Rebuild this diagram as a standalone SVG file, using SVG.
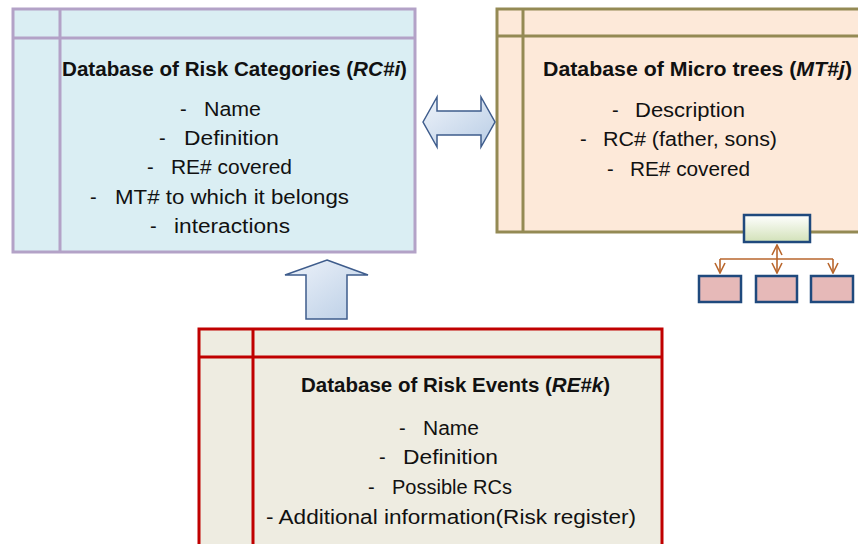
<svg xmlns="http://www.w3.org/2000/svg" width="858" height="544" viewBox="0 0 858 544">
<defs>
<linearGradient id="arrowGrad" x1="0" y1="0" x2="1" y2="1">
<stop offset="0" stop-color="#EEF3FA"/>
<stop offset="1" stop-color="#B9CDE5"/>
</linearGradient>
<linearGradient id="arrowGradV" x1="0" y1="0" x2="1" y2="1">
<stop offset="0" stop-color="#EEF3FA"/>
<stop offset="1" stop-color="#B9CDE5"/>
</linearGradient>
<linearGradient id="greenGrad" x1="0" y1="0" x2="0" y2="1">
<stop offset="0" stop-color="#FFFFFF"/>
<stop offset="1" stop-color="#D2E1B8"/>
</linearGradient>
<marker id="openArrow" viewBox="0 0 12 12" refX="11" refY="6" markerWidth="12" markerHeight="12" markerUnits="userSpaceOnUse" orient="auto-start-reverse">
<path d="M1,1 L11,6 L1,11" fill="none" stroke="#B9662C" stroke-width="1.6"/>
</marker>
<style>
text { font-family: "Liberation Sans", Arial, sans-serif; fill: #111; }
.title { font-size: 19.5px; font-weight: bold; }
.item { font-size: 20px; }
.rc { fill: #DAEEF3; stroke: #B3A2C7; stroke-width: 3; }
.mt { fill: #FDE9D9; stroke: #948A54; stroke-width: 3; }
.re { fill: #EEECE1; stroke: #C00000; stroke-width: 3; }
.rcline { stroke: #B3A2C7; stroke-width: 3; }
.mtline { stroke: #948A54; stroke-width: 3; }
.reline { stroke: #C00000; stroke-width: 3; }
.bigarrow { stroke: #3E5C8C; stroke-width: 1.5; stroke-linejoin: miter; }
.tree { stroke: #B9662C; stroke-width: 1.6; fill: none; }
.parent { fill: url(#greenGrad); stroke: #1F497D; stroke-width: 2.5; }
.child { fill: #E6B9B8; stroke: #1F497D; stroke-width: 2.5; }
</style>
</defs>

<g id="node-risk-categories">
<rect class="rc" x="13" y="9" width="402" height="243"/>
<line class="rcline" x1="60" y1="9" x2="60" y2="252"/>
<line class="rcline" x1="13" y1="38" x2="415" y2="38"/>
<text class="title" x="62" y="76" textLength="345" lengthAdjust="spacingAndGlyphs">Database of Risk Categories (<tspan font-style="italic">RC#i</tspan>)</text>
<text class="item" y="116"><tspan x="180">-</tspan><tspan x="204" textLength="57" lengthAdjust="spacingAndGlyphs">Name</tspan></text>
<text class="item" y="145"><tspan x="159">-</tspan><tspan x="184" textLength="95" lengthAdjust="spacingAndGlyphs">Definition</tspan></text>
<text class="item" y="174"><tspan x="147">-</tspan><tspan x="171" textLength="121" lengthAdjust="spacingAndGlyphs">RE# covered</tspan></text>
<text class="item" y="204"><tspan x="90">-</tspan><tspan x="115" textLength="234" lengthAdjust="spacingAndGlyphs">MT# to which it belongs</tspan></text>
<text class="item" y="233"><tspan x="150">-</tspan><tspan x="174" textLength="116" lengthAdjust="spacingAndGlyphs">interactions</tspan></text>
</g>

<g id="node-micro-trees">
<rect class="mt" x="497" y="9" width="380" height="223"/>
<line class="mtline" x1="523" y1="9" x2="523" y2="232"/>
<line class="mtline" x1="497" y1="36" x2="858" y2="36"/>
<text class="title" x="543" y="76" textLength="309" lengthAdjust="spacingAndGlyphs">Database of Micro trees (<tspan font-style="italic">MT#j</tspan>)</text>
<text class="item" y="117"><tspan x="612">-</tspan><tspan x="635" textLength="110" lengthAdjust="spacingAndGlyphs">Description</tspan></text>
<text class="item" y="146"><tspan x="580">-</tspan><tspan x="603" textLength="174" lengthAdjust="spacingAndGlyphs">RC# (father, sons)</tspan></text>
<text class="item" y="176"><tspan x="607">-</tspan><tspan x="630" textLength="120" lengthAdjust="spacingAndGlyphs">RE# covered</tspan></text>
</g>

<g id="node-tree-icon">
<rect class="parent" x="744" y="215" width="66" height="27"/>
<rect class="child" x="699" y="276" width="42" height="26"/>
<rect class="child" x="756" y="276" width="41" height="26"/>
<rect class="child" x="811" y="276" width="42" height="26"/>
</g>

<g id="node-risk-events">
<rect class="re" x="199" y="329" width="463" height="230"/>
<line class="reline" x1="253" y1="329" x2="253" y2="559"/>
<line class="reline" x1="199" y1="357" x2="662" y2="357"/>
<text class="title" x="301" y="392" textLength="309" lengthAdjust="spacingAndGlyphs">Database of Risk Events (<tspan font-style="italic">RE#k</tspan>)</text>
<text class="item" y="435"><tspan x="399">-</tspan><tspan x="423" textLength="56" lengthAdjust="spacingAndGlyphs">Name</tspan></text>
<text class="item" y="464"><tspan x="379">-</tspan><tspan x="403" textLength="95" lengthAdjust="spacingAndGlyphs">Definition</tspan></text>
<text class="item" y="494"><tspan x="368">-</tspan><tspan x="392" textLength="120" lengthAdjust="spacingAndGlyphs">Possible RCs</tspan></text>
<text class="item" x="266" y="524" textLength="370" lengthAdjust="spacingAndGlyphs">- Additional information(Risk register)</text>
</g>

<g id="connectors">
<path class="bigarrow" fill="url(#arrowGrad)" d="M423,122 L437,97 L437,111 L481,111 L481,97 L495,122 L481,147 L481,135 L437,135 L437,147 Z"/>
<path class="bigarrow" fill="url(#arrowGradV)" d="M327,260 L368,275 L347,275 L347,319 L306,319 L306,275 L285,275 Z"/>
<line class="tree" x1="777" y1="245" x2="777" y2="273" marker-start="url(#openArrow)" marker-end="url(#openArrow)"/>
<path class="tree" d="M720,259 L833,259"/>
<line class="tree" x1="720" y1="259" x2="720" y2="273" marker-end="url(#openArrow)"/>
<line class="tree" x1="833" y1="259" x2="833" y2="273" marker-end="url(#openArrow)"/>
</g>
</svg>
